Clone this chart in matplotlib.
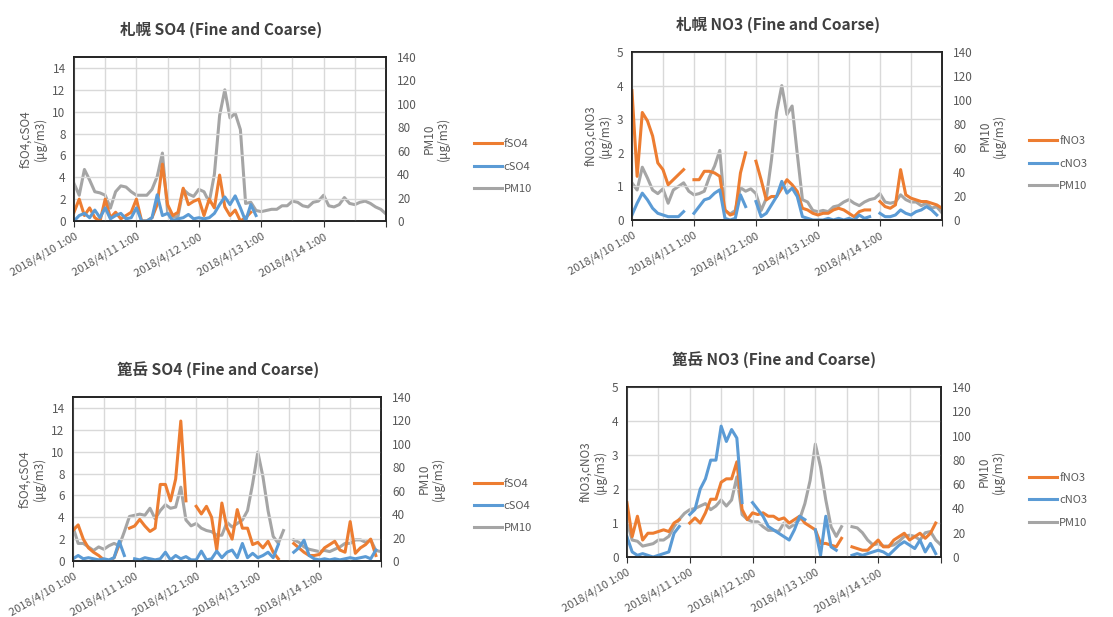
import numpy as np
import matplotlib
matplotlib.use('Agg')
import matplotlib.pyplot as plt
from matplotlib.ticker import MultipleLocator

plt.rcParams['font.family'] = ['Noto Sans CJK JP', 'DejaVu Sans']

nan = np.nan
# 2-hourly samples starting 2018/4/10 1:00
hours = np.arange(0, 121, 2)
day_labels = ['2018/4/10 1:00', '2018/4/11 1:00', '2018/4/12 1:00',
              '2018/4/13 1:00', '2018/4/14 1:00', '']

# 札幌 SO4
sap_fso4 = [0.8, 2.0, 0.5, 1.2, 0.3, 0.0, 2.0, 0.3, 0.8, 0.2,
            0.5, 0.8, 2.0, 0.0, 0.0, 0.3, 1.5, 5.2, 1.5, 0.5,
            0.8, 3.0, 1.5, 1.8, 2.0, 0.5, 2.0, 1.2, 4.2, 1.3,
            0.5, 1.0, 0.0, 0.3, 0.8, nan, nan, nan, nan, nan,
            nan, nan, nan, nan, nan, nan, nan, nan, nan, nan,
            nan, nan, nan, nan, nan, nan, nan, nan, nan, nan,
            nan]
sap_cso4 = [0.0, 0.5, 0.7, 0.3, 1.0, 0.3, 1.2, 0.2, 0.5, 0.7,
            0.2, 0.3, 1.2, 0.0, 0.0, 0.3, 2.4, 0.5, 0.7, 0.0,
            0.2, 0.3, 0.6, 0.2, 0.3, 0.2, 0.3, 0.7, 1.5, 2.2,
            1.5, 2.3, 1.2, 0.0, 1.5, 0.5, nan, nan, nan, nan,
            nan, nan, nan, nan, nan, nan, nan, nan, nan, nan,
            nan, nan, nan, nan, nan, nan, nan, nan, nan, nan,
            nan]
sap_pm10_a = [32, 22, 44, 35, 25, 24, 22, 11, 25, 30,
              29, 25, 22, 22, 22, 27, 38, 58, 8, 3,
              4, 27, 23, 21, 27, 25, 16, 40, 90, 112,
              88, 92, 78, 15, 16, 9, 8, 9, 10, 10,
              13, 13, 17, 16, 13, 12, 16, 17, 22, 13,
              12, 14, 20, 15, 14, 16, 17, 15, 12, 10,
              6]

# 札幌 NO3
sap_fno3 = [3.85, 1.3, 3.2, 2.95, 2.5, 1.7, 1.5, 1.05, 1.2, 1.35,
            1.5, nan, 1.2, 1.2, 1.45, 1.45, 1.4, 1.3, 0.3, 0.15,
            0.2, 1.4, 2.0, nan, 1.75, 1.2, 0.6, 0.7, 0.7, 0.95,
            1.2, 1.05, 0.85, 0.35, 0.3, 0.2, 0.15, 0.2, 0.2, 0.3,
            0.35, 0.3, 0.2, 0.1, 0.25, 0.3, 0.3, nan, 0.55, 0.4,
            0.35, 0.45, 1.5, 0.75, 0.65, 0.6, 0.55, 0.55, 0.5, 0.45,
            0.35]
sap_cno3 = [0.15, 0.5, 0.8, 0.6, 0.35, 0.2, 0.15, 0.1, 0.1, 0.1,
            0.25, nan, 0.2, 0.4, 0.6, 0.65, 0.8, 0.9, 0.05, 0.0,
            0.05, 0.75, 0.4, nan, 0.55, 0.1, 0.2, 0.45, 0.7, 1.15,
            0.8, 0.95, 0.7, 0.1, 0.05, 0.0, 0.0, 0.0, 0.05, 0.0,
            0.05, 0.0, 0.05, 0.0, 0.15, 0.05, 0.1, nan, 0.2, 0.1,
            0.1, 0.15, 0.3, 0.2, 0.15, 0.25, 0.3, 0.4, 0.3, 0.15,
            nan]
sap_pm10_b = [31, 25, 44, 35, 25, 22, 26, 14, 25, 28,
              31, 24, 21, 22, 24, 36, 45, 58, 8, 5,
              8, 27, 24, 26, 22, 8, 18, 50, 90, 112,
              88, 95, 55, 17, 15, 8, 7, 8, 7, 11,
              12, 15, 17, 14, 12, 15, 17, 18, 22, 15,
              14, 15, 21, 17, 15, 15, 12, 14, 10, 11,
              6]

# 篦岳 SO4
kan_fso4 = [2.8, 3.3, 2.0, 1.2, 0.8, 0.5, 0.1, 0.0, 0.3, 1.5,
            nan, 3.0, 3.2, 3.8, 3.2, 2.7, 3.0, 7.0, 7.0, 5.5,
            7.5, 12.8, 5.5, nan, 5.0, 4.3, 5.0, 4.0, 1.0, 5.3,
            3.0, 2.0, 4.7, 3.0, 3.0, 1.5, 1.7, 1.2, 1.8, 0.8,
            0.2, nan, nan, 1.6, 1.2, 0.8, 0.5, 0.5, 0.6, 1.2,
            1.5, 1.8, 1.0, 0.8, 3.6, 0.7, 1.2, 1.5, 2.0, 0.5,
            nan]
kan_cso4 = [0.2, 0.5, 0.2, 0.3, 0.2, 0.1, 0.2, 0.1, 0.3, 1.8,
            0.5, nan, 0.2, 0.1, 0.3, 0.2, 0.1, 0.2, 0.8, 0.1,
            0.5, 0.2, 0.4, 0.1, 0.1, 0.9, 0.1, 0.2, 0.9, 0.3,
            0.8, 1.0, 0.3, 1.6, 0.3, 0.7, 0.3, 0.5, 0.8, 0.3,
            1.5, nan, nan, 0.8, 1.2, 1.9, 0.5, 0.2, 0.1, 0.2,
            0.1, 0.2, 0.1, 0.2, 0.3, 0.2, 0.3, 0.4, 0.2, 1.0,
            nan]
kan_pm10_a = [29, 15, 15, 12, 9, 12, 10, 13, 15, 13,
              25, 38, 39, 40, 39, 45, 36, 43, 48, 45,
              46, 63, 35, 30, 32, 28, 26, 25, 22, 22,
              33, 29, 32, 35, 43, 66, 93, 72, 43, 21,
              15, 26, nan, 18, 16, 12, 10, 9, 8, 9,
              8, 10, 12, 15, 15, 18, 18, 16, 18, 9,
              8]

# 篦岳 NO3
kan_fno3 = [1.6, 0.6, 1.2, 0.5, 0.7, 0.7, 0.75, 0.8, 0.75, 1.0,
            1.1, nan, 1.0, 1.15, 1.0, 1.3, 1.7, 1.7, 2.2, 2.3,
            2.3, 2.8, 1.4, 1.1, 1.3, 1.25, 1.3, 1.2, 1.2, 1.1,
            1.15, 1.0, 1.1, 1.2, 1.0, 0.9, 0.8, 0.4, 0.4, 0.35,
            0.3, 0.55, nan, 0.3, 0.25, 0.2, 0.2, 0.35, 0.5, 0.3,
            0.3, 0.5, 0.6, 0.7, 0.5, 0.6, 0.7, 0.55, 0.7, 1.0,
            nan]
kan_cno3 = [0.6, 0.15, 0.05, 0.1, 0.05, 0.0, 0.05, 0.1, 0.15, 0.7,
            0.9, nan, 1.25, 1.4, 2.0, 2.3, 2.85, 2.85, 3.85, 3.4,
            3.75, 3.5, 1.6, nan, 1.6, 1.4, 1.2, 0.9, 0.8, 0.7,
            0.6, 0.5, 0.8, 1.2, 1.1, nan, 0.8, 0.05, 1.2, 0.3,
            0.2, nan, nan, 0.05, 0.1, 0.05, 0.1, 0.15, 0.2, 0.15,
            0.05, 0.2, 0.35, 0.45, 0.35, 0.25, 0.5, 0.15, 0.4, 0.1,
            nan]
kan_pm10_b = [29, 14, 13, 9, 10, 11, 14, 14, 17, 25,
              31, 36, 39, 40, 42, 44, 39, 42, 47, 42,
              47, 66, 35, 31, 29, 29, 25, 22, 22, 21,
              28, 24, 27, 31, 44, 63, 93, 74, 47, 25,
              17, 25, nan, 25, 24, 20, 14, 10, 11, 9,
              9, 10, 13, 17, 18, 17, 14, 20, 21, 14,
              10]

orange = '#ED7D31'
blue = '#5B9BD5'
gray = '#A5A5A5'
txt = '#595959'

fig = plt.figure(figsize=(11.13, 6.17), dpi=100)

panels = [
    ('札幌 SO4 (Fine and Coarse)', [0.0665, 0.6418, 0.2803, 0.2658],
     sap_fso4, sap_cso4, sap_pm10_a, 'fSO4', 'cSO4', 15, 2, 'fSO4,cSO4\n(μg/m3)', (0.487, 0.73)),
    ('札幌 NO3 (Fine and Coarse)', [0.5678, 0.6434, 0.2785, 0.2723],
     sap_fno3, sap_cno3, sap_pm10_b, 'fNO3', 'cNO3', 5, 1, 'fNO3,cNO3\n(μg/m3)', (0.986, 0.735)),
    ('篦岳 SO4 (Fine and Coarse)', [0.0656, 0.0908, 0.2767, 0.2658],
     kan_fso4, kan_cso4, kan_pm10_a, 'fSO4', 'cSO4', 15, 2, 'fSO4,cSO4\n(μg/m3)', (0.487, 0.18)),
    ('篦岳 NO3 (Fine and Coarse)', [0.5633, 0.0972, 0.2821, 0.2755],
     kan_fno3, kan_cno3, kan_pm10_b, 'fNO3', 'cNO3', 5, 1, 'fNO3,cNO3\n(μg/m3)', (0.986, 0.189)),
]

for title, rect, f, c, pm, fl, cl, ymax, ystep, ylab, legpos in panels:
    ax = fig.add_axes(rect)
    ax2 = ax.twinx()
    ax.set_zorder(ax2.get_zorder() + 1)
    ax.patch.set_visible(False)

    l3, = ax2.plot(hours, pm, color=gray, lw=2.2, label='PM10')
    l1, = ax.plot(hours, f, color=orange, lw=2.2, label=fl)
    l2, = ax.plot(hours, c, color=blue, lw=2.2, label=cl)

    ax.set_xlim(0, 120)
    ax.set_ylim(0, ymax)
    ax2.set_ylim(0, 140)
    ax.set_yticks(np.arange(0, ymax + 0.01, ystep))
    ax2.set_yticks(np.arange(0, 141, 20))
    ax.set_xticks(np.arange(0, 121, 24))
    ax.set_xticklabels(day_labels, rotation=30, ha='right', rotation_mode='anchor')
    ax.xaxis.set_minor_locator(MultipleLocator(12))
    ax2.grid(False)
    ax.grid(True, which='both', axis='x', color='#D9D9D9', lw=1)
    ax.grid(True, which='major', axis='y', color='#D9D9D9', lw=1)
    ax.set_axisbelow(True)
    ax2.set_axisbelow(True)

    ax.tick_params(axis='y', length=0, labelsize=8.5, labelcolor=txt, pad=6)
    ax2.tick_params(axis='y', length=0, labelsize=8.5, labelcolor=txt, pad=8)
    ax.tick_params(axis='x', which='major', length=4, direction='out', labelsize=8, labelcolor=txt, color='#333333')
    ax.tick_params(axis='x', which='minor', length=0)
    for ax_ in (ax, ax2):
        for s in ax_.spines.values():
            s.set_color('#222222')
            s.set_linewidth(1.2)

    ax.set_ylabel(ylab, fontsize=8.5, color=txt, labelpad=4, linespacing=1.1)
    ax2.set_ylabel('PM10\n(μg/m3)', fontsize=8.5, color=txt, rotation=90, labelpad=4, linespacing=1.1)
    ax.set_title(title, fontsize=11.2, fontweight='bold', color='#404040', pad=16, x=0.47)

    fig.legend([l1, l2, l3], [fl, cl, 'PM10'], loc='center right', bbox_to_anchor=legpos,
               bbox_transform=fig.transFigure, frameon=False, fontsize=8, labelcolor=txt,
               handlelength=2.5, handletextpad=0.2, labelspacing=1.1)

fig.savefig('out.png', dpi=100)
